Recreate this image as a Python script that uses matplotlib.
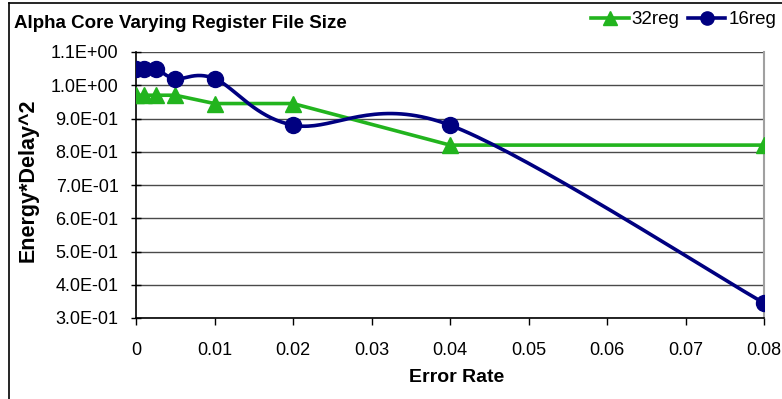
import matplotlib
matplotlib.use("Agg")
import matplotlib.pyplot as plt
import numpy as np
from matplotlib.lines import Line2D
from matplotlib.ticker import FuncFormatter

plt.rcParams['font.family'] = ['Liberation Sans', 'DejaVu Sans']

# datos
error_rate = [0, 0.001, 0.0025, 0.005, 0.01, 0.02, 0.04, 0.08]
ed2_32reg = [0.97, 0.97, 0.97, 0.97, 0.945, 0.945, 0.82, 0.82]
ed2_16reg = [1.05, 1.05, 1.05, 1.02, 1.02, 0.88, 0.88, 0.345]
xticks = [0, 0.01, 0.02, 0.03, 0.04, 0.05, 0.06, 0.07, 0.08]
xtick_labels = ['0', '0.01', '0.02', '0.03', '0.04', '0.05', '0.06', '0.07', '0.08']
yticks = [0.3, 0.4, 0.5, 0.6, 0.7, 0.8, 0.9, 1.0, 1.1]

GREEN = '#22b41e'
NAVY = '#000080'


def suavizar(xs, ys, n=40):
    # curva tipo Excel: bezier con puntos de control catmull-rom
    p = np.column_stack([xs, ys]).astype(float)
    pts = [p[0]]
    for i in range(len(p) - 1):
        p0 = p[max(i - 1, 0)]
        p1 = p[i]
        p2 = p[i + 1]
        p3 = p[min(i + 2, len(p) - 1)]
        c1 = p1 + (p2 - p0) / 6
        c2 = p2 - (p3 - p1) / 6
        t = np.linspace(0, 1, n)[1:, None]
        seg = ((1 - t) ** 3 * p1 + 3 * (1 - t) ** 2 * t * c1
               + 3 * (1 - t) * t ** 2 * c2 + t ** 3 * p2)
        pts.extend(seg)
    pts = np.array(pts)
    return pts[:, 0], pts[:, 1]


fig = plt.figure(figsize=(7.82, 3.99), dpi=100)
ax = fig.add_axes([136 / 782, 81 / 399, 628 / 782, 266 / 399])

ax.plot(error_rate, ed2_32reg, color=GREEN, lw=2.6, marker='^', ms=11.5,
        mec=GREEN, mfc=GREEN, zorder=3)
sx, sy = suavizar(error_rate, ed2_16reg)
ax.plot(sx, sy, color=NAVY, lw=2.6, zorder=4)
ax.plot(error_rate, ed2_16reg, ls='none', marker='o', ms=11.5,
        mec=NAVY, mfc=NAVY, zorder=5)

ax.set_xlim(0, 0.08)
ax.set_ylim(0.3, 1.1)
ax.set_xticks(xticks)
ax.set_xticklabels(xtick_labels)
ax.set_yticks(yticks)
ax.yaxis.set_major_formatter(FuncFormatter(lambda v, pos: format(v, '.1E')))
ax.grid(axis='y', color='#4a4a4a', lw=1)
ax.set_axisbelow(True)

ax.spines['top'].set_visible(False)
ax.spines['right'].set_color('#a0a0a0')
ax.spines['right'].set_linewidth(1.5)
ax.spines['left'].set_linewidth(1.2)
ax.spines['bottom'].set_linewidth(1.2)
ax.tick_params(axis='x', direction='out', length=5, width=1, pad=12,
               labelsize=13)
ax.tick_params(axis='y', direction='inout', length=7, width=1, pad=9,
               labelsize=13)

fig.text(14 / 782, 1 - 24 / 399, 'Alpha Core Varying Register File Size',
         fontsize=13.5, fontweight='bold', va='center', ha='left')
fig.text(457 / 782, 1 - 377 / 399, 'Error Rate', fontsize=14,
         fontweight='bold', ha='center', va='center')
fig.text(28 / 782, 1 - 180 / 399, 'Energy*Delay^2', fontsize=15.5,
         fontweight='bold', ha='center', va='center', rotation=90)

handles = [Line2D([], [], color=GREEN, lw=2.6, marker='^', ms=9.5),
           Line2D([], [], color=NAVY, lw=2.6, marker='o', ms=9.5)]
fig.legend(handles, ['32reg', '16reg'], loc='upper right', ncol=2,
           bbox_to_anchor=(776 / 782, 1 - 11 / 399), frameon=False,
           fontsize=13.5, handlelength=2.0, handletextpad=0.15,
           columnspacing=0.45, borderaxespad=0, borderpad=0)

# marco exterior
fig.add_artist(Line2D([9 / 782, 9 / 782], [0, 1 - 3 / 399], color='black',
                      lw=1.2, transform=fig.transFigure))
fig.add_artist(Line2D([9 / 782, 1], [1 - 3 / 399, 1 - 3 / 399], color='black',
                      lw=1.2, transform=fig.transFigure))

fig.savefig('out.png', dpi=100)
